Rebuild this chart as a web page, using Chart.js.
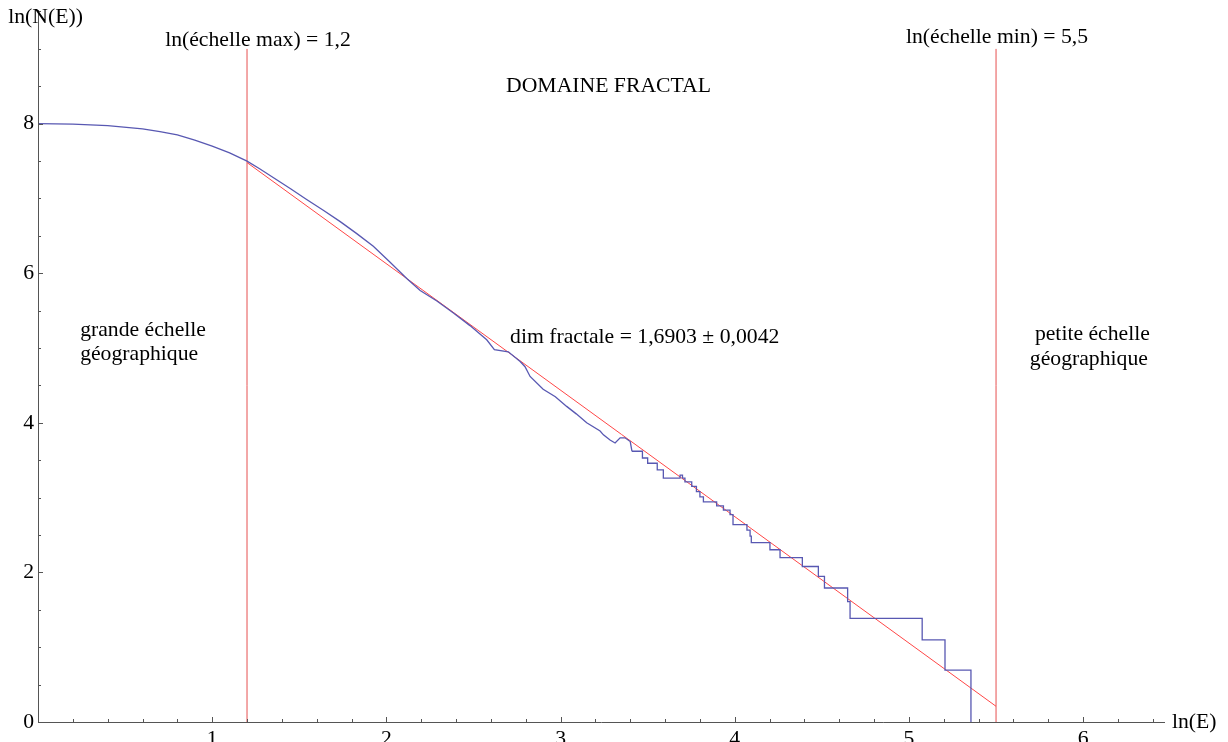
<!DOCTYPE html>
<html>
<head>
<meta charset="utf-8">
<script src="https://cdn.jsdelivr.net/npm/chart.js@4/dist/chart.umd.min.js"></script>
<style>
  html, body { margin: 0; padding: 0; background: #fff; overflow: hidden; }
  #chart { display: block; }
</style>
</head>
<body>
<canvas id="chart" width="1228" height="742"></canvas>
<script>
// ln(N(E)) curve, smooth upper part
const curveX = [0, 0.2, 0.4, 0.6, 0.7, 0.8, 0.9, 1.0, 1.1, 1.2, 1.27, 1.35, 1.45, 1.54, 1.64, 1.735, 1.83, 1.925, 2.02, 2.117, 2.194, 2.29, 2.385, 2.48, 2.576, 2.62, 2.70, 2.768, 2.796, 2.825, 2.90, 2.97, 3.035, 3.09, 3.15, 3.227, 3.246, 3.284, 3.313, 3.342, 3.37, 3.40, 3.41]
const curveY = [8.00, 7.995, 7.975, 7.93, 7.895, 7.85, 7.78, 7.70, 7.61, 7.50, 7.40, 7.28, 7.13, 6.99, 6.84, 6.69, 6.53, 6.36, 6.15, 5.93, 5.77, 5.63, 5.47, 5.30, 5.11, 4.98, 4.95, 4.82, 4.75, 4.62, 4.45, 4.35, 4.22, 4.12, 4.00, 3.89, 3.84, 3.77, 3.73, 3.80, 3.80, 3.75, 3.62]

// stepped tail (small counts N, so ln N jumps)
const stepX = [3.41, 3.47, 3.50, 3.555, 3.59, 3.686, 3.70, 3.714, 3.753, 3.78, 3.80, 3.82, 3.896, 3.935, 3.973, 3.99, 4.07, 4.088, 4.095, 4.202, 4.26, 4.388, 4.48, 4.515, 4.648, 4.662, 5.076, 5.207, 5.356]
const stepY = [3.62, 3.53, 3.46, 3.37, 3.26, 3.30, 3.26, 3.21, 3.15, 3.08, 3.01, 2.944, 2.89, 2.833, 2.773, 2.639, 2.565, 2.485, 2.398, 2.303, 2.197, 2.079, 1.946, 1.792, 1.609, 1.386, 1.099, 0.693, 0]

// fitted line, slope -1.6903
const fitX = [1.2, 5.5]
const fitY = [7.48, 0.21]

// scale limits
const lnEmax = 1.2
const lnEmin = 5.5
const markerTop = 9.0

const xTicks = [1, 2, 3, 4, 5, 6]
const yTicks = [0, 2, 4, 6, 8]
const xMinorStep = 0.2
const yMinorStep = 0.5

const notes = [
  { text: 'ln(N(E))', x: -0.171, y: 9.42 },
  { text: 'ln(échelle max) = 1,2', x: 0.73, y: 9.12 },
  { text: 'ln(échelle min) = 5,5', x: 4.983, y: 9.15 },
  { text: 'DOMAINE FRACTAL', x: 2.687, y: 8.50 },
  { text: 'grande échelle', x: 0.242, y: 5.24 },
  { text: 'géographique', x: 0.242, y: 4.91 },
  { text: 'dim fractale = 1,6903 ± 0,0042', x: 2.71, y: 5.15 },
  { text: 'petite échelle', x: 5.723, y: 5.18 },
  { text: 'géographique', x: 5.694, y: 4.85 },
  { text: 'ln(E)', x: 6.51, y: 0 }
]

const pts = (xs, ys) => xs.map((x, i) => ({ x: x, y: ys[i] }))

const FONT = '21.7px "Liberation Serif", "Times New Roman", serif'
const AXIS = '#555'
const BLUE = 'rgb(88,88,178)'

const axesPlugin = {
  id: 'axes',
  afterDraw(chart) {
    const ctx = chart.ctx
    const xs = chart.scales.x
    const ys = chart.scales.y
    const area = chart.chartArea
    const x0 = xs.getPixelForValue(0)
    const y0 = ys.getPixelForValue(0)
    ctx.save()
    ctx.strokeStyle = AXIS
    ctx.lineWidth = 1
    ctx.beginPath()
    ctx.moveTo(x0 + 0.5, area.top)
    ctx.lineTo(x0 + 0.5, y0)
    ctx.moveTo(x0, y0 + 0.5)
    ctx.lineTo(area.right, y0 + 0.5)
    // minor ticks
    for (let v = xMinorStep; v < xs.max; v += xMinorStep) {
      const px = Math.round(xs.getPixelForValue(v)) + 0.5
      const major = xTicks.some(t => Math.abs(t - v) < 1e-6)
      ctx.moveTo(px, y0)
      ctx.lineTo(px, y0 - (major ? 5 : 3))
    }
    for (let v = yMinorStep; v < ys.max; v += yMinorStep) {
      const py = Math.round(ys.getPixelForValue(v)) + 0.5
      const major = yTicks.some(t => Math.abs(t - v) < 1e-6)
      ctx.moveTo(x0, py)
      ctx.lineTo(x0 + (major ? 5 : 3), py)
    }
    ctx.stroke()

    ctx.fillStyle = '#000'
    ctx.font = FONT
    ctx.textAlign = 'center'
    ctx.textBaseline = 'top'
    xTicks.forEach(t => ctx.fillText(String(t), xs.getPixelForValue(t), y0 + 6))
    ctx.textAlign = 'right'
    ctx.textBaseline = 'middle'
    yTicks.forEach(t => ctx.fillText(String(t), x0 - 4, ys.getPixelForValue(t)))

    ctx.textAlign = 'left'
    notes.forEach(n => ctx.fillText(n.text, xs.getPixelForValue(n.x), ys.getPixelForValue(n.y)))
    ctx.restore()
  }
}

new Chart(document.getElementById('chart'), {
  type: 'line',
  data: {
    datasets: [
      {
        data: pts(curveX, curveY),
        borderColor: BLUE,
        borderWidth: 1.3,
        pointRadius: 0,
        tension: 0
      },
      {
        data: pts(stepX, stepY),
        borderColor: BLUE,
        borderWidth: 1.3,
        pointRadius: 0,
        stepped: 'before'
      },
      {
        data: pts(fitX, fitY),
        borderColor: 'rgb(255,70,70)',
        borderWidth: 1,
        pointRadius: 0
      },
      {
        data: pts([lnEmax, lnEmax], [0, markerTop]),
        borderColor: 'rgb(230,80,80)',
        borderWidth: 1,
        pointRadius: 0
      },
      {
        data: pts([lnEmin, lnEmin], [0, markerTop]),
        borderColor: 'rgb(230,80,80)',
        borderWidth: 1,
        pointRadius: 0
      }
    ]
  },
  options: {
    responsive: false,
    animation: false,
    layout: { padding: { left: 38, right: 63, top: 10, bottom: 20 } },
    plugins: { legend: { display: false }, tooltip: { enabled: false } },
    scales: {
      x: { type: 'linear', min: 0, max: 6.47, display: false },
      y: { type: 'linear', min: 0, max: 9.52, display: false }
    }
  },
  plugins: [axesPlugin]
})
</script>
</body>
</html>
